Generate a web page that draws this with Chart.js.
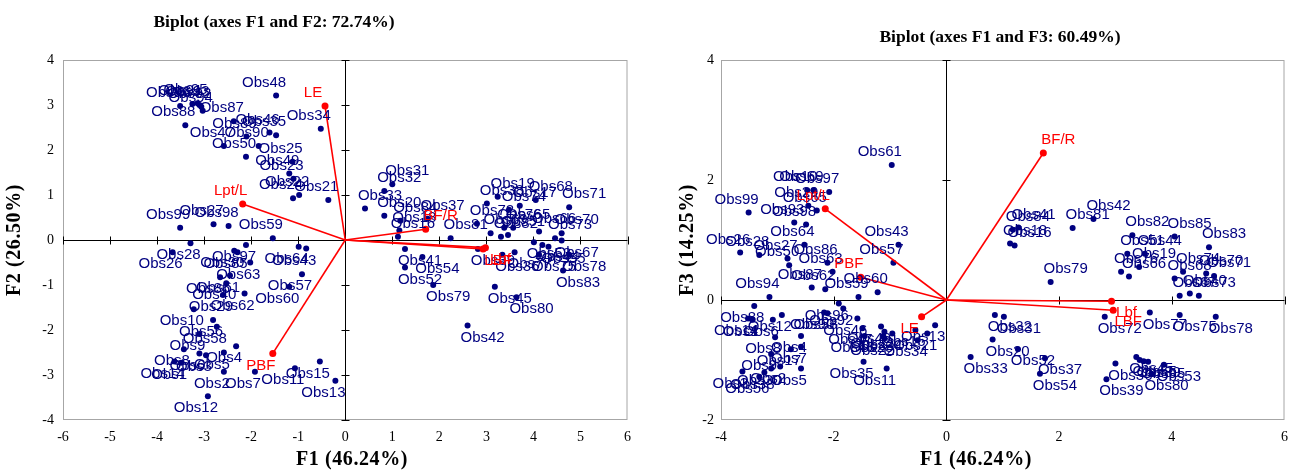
<!DOCTYPE html>
<html>
<head>
<meta charset="utf-8">
<script src="https://cdn.jsdelivr.net/npm/chart.js@4"></script>
<style>
  body { margin: 0; background: #fff; width: 1297px; height: 470px; position: relative; overflow: hidden; }
  .box { position: absolute; top: 0; height: 470px; }
</style>
</head>
<body>
<div class="box" style="left:0;width:640px"><canvas id="f1f2-chart"></canvas></div>
<div class="box" style="left:660px;width:637px"><canvas id="f1f3-chart"></canvas></div>
<script>
// ---- F1 / F2 biplot ----
const obsNamesA = ['Obs1','Obs2','Obs3','Obs4','Obs5','Obs6','Obs7','Obs8','Obs9','Obs10','Obs11','Obs12','Obs13','Obs14','Obs15','Obs16','Obs17','Obs18','Obs19','Obs20',
  'Obs21','Obs22','Obs23','Obs24','Obs25','Obs26','Obs27','Obs28','Obs29','Obs30','Obs31','Obs32','Obs33','Obs34','Obs35','Obs36','Obs37','Obs38','Obs39','Obs40',
  'Obs41','Obs42','Obs43','Obs44','Obs45','Obs46','Obs47','Obs48','Obs49','Obs50','Obs51','Obs52','Obs53','Obs54','Obs55','Obs56','Obs57','Obs58','Obs59','Obs60',
  'Obs61','Obs62','Obs63','Obs64','Obs65','Obs66','Obs67','Obs68','Obs69','Obs70','Obs71','Obs72','Obs73','Obs74','Obs75','Obs76','Obs77','Obs78','Obs79','Obs80',
  'Obs81','Obs82','Obs83','Obs84','Obs85','Obs86','Obs87','Obs88','Obs89','Obs90','Obs91','Obs92','Obs93','Obs94','Obs95','Obs96','Obs97','Obs98','Obs99'];
const obsF1A = [-3.49,-2.58,-2.96,-2.32,-2.58,-3.10,-1.92,-3.43,-3.10,-3.22,-1.07,-2.92,-0.21,-3.63,-0.54,1.12,3.71,1.15,3.24,0.83,
  -0.36,-0.98,-1.10,-1.11,-1.12,-3.67,-2.80,-3.29,-2.60,-2.36,1.00,0.83,0.42,-0.52,-1.47,3.34,1.75,3.01,2.82,-2.53,
  1.27,2.60,-0.83,4.19,3.18,-1.61,-2.58,-1.47,-1.19,-2.11,3.46,1.27,4.01,1.64,4.32,-2.81,-0.92,-2.73,-1.54,-1.19,
  -2.45,-2.14,-2.02,-0.99,3.57,4.12,4.60,4.05,3.09,4.60,4.76,2.80,4.46,3.48,4.12,3.38,3.60,4.76,1.87,3.64,
  2.24,3.31,4.63,1.17,-2.29,-2.66,-2.37,-3.40,-2.10,-1.84,-3.25,-3.06,-3.10,-3.03,-3.14,-3.51,-2.11,-2.48,-3.51];
const obsF2A = [-2.73,-2.93,-2.56,-2.36,-2.50,-2.52,-2.93,-2.43,-2.09,-1.54,-2.85,-3.47,-3.13,-2.70,-2.70,0.07,0.76,0.21,0.96,0.54,
  0.89,1.00,1.36,0.93,1.74,-0.27,0.35,-0.07,-1.22,-0.24,1.24,1.09,0.70,2.47,2.33,-0.33,0.47,0.81,-0.20,-0.96,
  -0.20,-1.90,-0.19,-0.11,-1.04,2.39,2.09,3.21,1.48,1.85,0.11,-0.61,-0.05,-0.38,-0.15,-1.78,-0.76,-1.93,0.04,-1.04,
  -0.79,-1.19,-0.50,-0.15,0.27,0.19,-0.01,0.89,0.15,0.15,0.73,0.36,0.04,0.67,-0.33,0.27,-0.27,-0.33,-1.00,-1.27,
  0.04,0.07,-0.68,0.43,-0.27,-0.83,2.64,2.55,2.30,2.09,3.02,2.96,3.00,2.87,3.04,2.98,-0.11,0.31,0.27];
const varNamesA = ['LE','Lpt/L','BF/R','Lbf','LBF','PBF'];
const varF1A = [-0.43,-2.18,1.71,2.98,2.93,-1.54];
const varF2A = [2.98,0.80,0.24,-0.17,-0.20,-2.52];

// ---- F1 / F3 biplot ----
const obsNamesB = ['Obs61','Obs10','Obs69','Obs97','Obs99','Obs29','Obs65','Obs93','Obs98','Obs43','Obs57','Obs26','Obs28','Obs27','Obs64','Obs50','Obs86','Obs63','Obs87','Obs62',
  'Obs59','Obs60','Obs94','Obs88','Obs14','Obs1','Obs12','Obs6','Obs8','Obs17','Obs4','Obs7','Obs9','Obs2','Obs5','Obs30','Obs3','Obs38','Obs56','Obs90',
  'Obs58','Obs96','Obs92','Obs46','Obs47','Obs49','Obs23','Obs24','Obs22','Obs34','Obs21','Obs13','Obs35','Obs11','Obs48','Obs25','Obs15','Obs41','Obs84','Obs18',
  'Obs16','Obs81','Obs42','Obs82','Obs85','Obs83','Obs51','Obs44','Obs19','Obs76','Obs66','Obs74','Obs70','Obs71','Obs68','Obs67','Obs73','Obs40','Obs79','Obs72',
  'Obs77','Obs75','Obs78','Obs32','Obs31','Obs20','Obs52','Obs33','Obs37','Obs54','Obs39','Obs36','Obs45','Obs53','Obs89','Obs80','Obs55','Obs95'];
const obsF1B = [-0.97,-2.47,-2.36,-2.08,-3.51,-2.45,-2.30,-2.70,-2.49,-0.85,-0.94,-3.66,-3.32,-2.82,-2.52,-2.79,-2.11,-2.02,-2.39,-2.15,
  -1.56,-1.22,-3.14,-3.41,-3.52,-3.44,-2.92,-3.08,-3.04,-2.76,-2.58,-2.58,-3.11,-2.95,-2.58,-3.11,-3.62,-3.23,-3.32,-2.17,
  -2.11,-1.91,-1.83,-1.58,-1.49,-1.16,-1.10,-0.96,-1.10,-0.51,-0.34,-0.20,-1.47,-1.06,-1.45,-1.12,-0.55,1.28,1.18,1.13,
  1.21,2.24,2.61,3.30,4.05,4.66,3.21,3.52,3.42,3.10,3.24,4.20,4.61,4.75,4.05,4.14,4.48,4.32,1.85,2.81,
  3.61,4.14,4.78,0.86,1.02,0.82,1.27,0.43,1.75,1.66,2.84,3.00,3.37,3.86,3.50,3.64,3.43,3.58];
const obsF3B = [2.25,1.83,1.83,1.80,1.46,1.57,1.49,1.29,1.26,0.92,0.62,0.79,0.75,0.69,0.92,0.58,0.62,0.47,0.21,0.18,
  0.05,0.13,0.05,-0.10,-0.31,-0.33,-0.25,-0.33,-0.62,-0.82,-0.60,-0.78,-0.90,-1.11,-1.14,-1.14,-1.19,-1.21,-1.28,-0.21,
  -0.22,-0.06,-0.14,-0.31,-0.47,-0.44,-0.53,-0.56,-0.64,-0.67,-0.56,-0.42,-1.03,-1.14,-0.60,-0.60,-0.50,1.21,1.17,0.94,
  0.91,1.20,1.35,1.08,1.06,0.88,0.77,0.77,0.55,0.47,0.39,0.47,0.44,0.40,0.36,0.07,0.07,0.11,0.30,-0.28,
  -0.21,-0.25,-0.28,-0.25,-0.28,-0.66,-0.82,-0.95,-0.97,-1.23,-1.32,-1.06,-0.95,-1.08,-1.02,-1.23,-1.00,-1.03];
const varNamesB = ['BF/R','Lbf','LBF','LE','PBF','Lpt/L'];
const varF1B = [1.72,2.93,2.96,-0.44,-1.52,-2.15];
const varF3B = [2.45,-0.02,-0.17,-0.28,0.38,1.52];

const NAVY = 'rgb(0,0,128)';
const RED = 'rgb(255,0,0)';
const SERIF = '"Liberation Serif", "Times New Roman", serif';

// frame, axes through the origin, point labels, chart and axis titles
const biplotPlugin = {
  id: 'biplot',
  beforeDatasetsDraw(chart) {
    const { ctx, chartArea: a, scales: { x, y } } = chart;
    ctx.save();
    ctx.lineWidth = 1;
    ctx.strokeStyle = '#a6a6a6';
    ctx.strokeRect(a.left + 0.5, a.top + 0.5, a.width - 1, a.height - 1);
    const x0 = Math.round(x.getPixelForValue(0)) + 0.5;
    const y0 = Math.round(y.getPixelForValue(0)) + 0.5;
    ctx.strokeStyle = '#000';
    ctx.beginPath();
    ctx.moveTo(x0, a.top); ctx.lineTo(x0, a.bottom);
    ctx.moveTo(a.left, y0); ctx.lineTo(a.right, y0);
    x.ticks.forEach(t => {
      const px = Math.round(x.getPixelForValue(t.value)) + 0.5;
      ctx.moveTo(px, y0 - 4); ctx.lineTo(px, y0 + 4);
    });
    y.ticks.forEach(t => {
      const py = Math.round(y.getPixelForValue(t.value)) + 0.5;
      ctx.moveTo(x0 - 4, py); ctx.lineTo(x0 + 4, py);
    });
    ctx.stroke();
    ctx.restore();
  },
  afterDatasetsDraw(chart, args, opts) {
    const { ctx, chartArea: a } = chart;
    ctx.save();
    ctx.font = '15px "Liberation Sans", Arial, sans-serif';
    ctx.textAlign = 'center';
    ctx.textBaseline = 'middle';
    chart.data.datasets.forEach((ds, i) => {
      const meta = chart.getDatasetMeta(i);
      (ds.pointLabels || []).forEach((lbl, j) => {
        if (!lbl) return;
        const el = meta.data[j];
        const v = ds.data[j];
        ctx.fillStyle = ds.labelColor;
        ctx.fillText(lbl, el.x + (v.x >= 0 ? 15 : -12), el.y + (v.y >= 0 ? -13 : 12));
      });
    });
    ctx.fillStyle = '#000';
    ctx.font = 'bold 17.5px ' + SERIF;
    ctx.fillText(opts.title, opts.titleX, opts.titleY);

    ctx.font = 'bold 20px ' + SERIF;
    if ('letterSpacing' in ctx) ctx.letterSpacing = '0.6px';
    ctx.fillText(opts.xTitle, opts.xTitleX, 460);
    ctx.translate(opts.yTitleX, (a.top + a.bottom) / 2);
    ctx.rotate(-Math.PI / 2);
    ctx.fillText(opts.yTitle, 0, 0);
    ctx.restore();
  }
};

function makeBiplot(canvasId, cfg) {
  const datasets = [{
    data: cfg.obsX.map((v, i) => ({ x: v, y: cfg.obsY[i] })),
    pointLabels: cfg.obsNames,
    labelColor: NAVY,
    backgroundColor: NAVY,
    borderColor: NAVY,
    pointRadius: 3,
    pointBorderWidth: 0,
    order: 2
  }];
  cfg.varNames.forEach((name, i) => {
    datasets.push({
      data: [{ x: 0, y: 0 }, { x: cfg.varX[i], y: cfg.varY[i] }],
      pointLabels: [null, name],
      labelColor: RED,
      showLine: true,
      borderColor: RED,
      borderWidth: 1.6,
      backgroundColor: RED,
      pointRadius: [0, 3.5],
      pointBorderWidth: 0,
      order: 1
    });
  });
  const tickFont = { family: SERIF, size: 14 };
  return new Chart(document.getElementById(canvasId), {
    type: 'scatter',
    data: { datasets },
    options: {
      responsive: true,
      maintainAspectRatio: false,
      animation: false,
      events: [],
      layout: { padding: cfg.padding },
      plugins: {
        legend: { display: false },
        tooltip: { enabled: false },
        biplot: {
          title: cfg.title, titleX: cfg.titleX, titleY: cfg.titleY,
          xTitle: cfg.xTitle, xTitleX: cfg.xTitleX, yTitle: cfg.yTitle, yTitleX: cfg.yTitleX
        }
      },
      scales: {
        x: {
          type: 'linear', min: cfg.xMin, max: cfg.xMax,
          grid: { display: false, drawTicks: false },
          border: { display: false },
          ticks: { stepSize: cfg.xStep, font: tickFont, color: '#000', padding: 9, maxRotation: 0 },
          afterFit: s => { s.height = 50; }
        },
        y: {
          type: 'linear', min: cfg.yMin, max: cfg.yMax,
          grid: { display: false, drawTicks: false },
          border: { display: false },
          ticks: { stepSize: cfg.yStep, font: tickFont, color: '#000', padding: cfg.yTickPad },
          afterFit: s => { s.width = cfg.yWidth; }
        }
      }
    },
    plugins: [biplotPlugin]
  });
}

makeBiplot('f1f2-chart', {
  obsNames: obsNamesA, obsX: obsF1A, obsY: obsF2A,
  varNames: varNamesA, varX: varF1A, varY: varF2A,
  xMin: -6, xMax: 6, xStep: 1, yMin: -4, yMax: 4, yStep: 1,
  xTitle: 'F1 (46.24%)', xTitleX: 352, yTitle: 'F2 (26.50%)', yTitleX: 15,
  title: 'Biplot (axes F1 and F2: 72.74%)', titleX: 274, titleY: 22,
  padding: { left: 2, top: 60, right: 11, bottom: 0 }, yWidth: 61, yTickPad: 9
});

makeBiplot('f1f3-chart', {
  obsNames: obsNamesB, obsX: obsF1B, obsY: obsF3B,
  varNames: varNamesB, varX: varF1B, varY: varF3B,
  xMin: -4, xMax: 6, xStep: 2, yMin: -2, yMax: 4, yStep: 2,
  xTitle: 'F1 (46.24%)', xTitleX: 316, yTitle: 'F3 (14.25%)', yTitleX: 28,
  title: 'Biplot (axes F1 and F3: 60.49%)', titleX: 340, titleY: 37,
  padding: { left: 14, top: 60, right: 12, bottom: 0 }, yWidth: 47, yTickPad: 7
});
</script>
</body>
</html>
